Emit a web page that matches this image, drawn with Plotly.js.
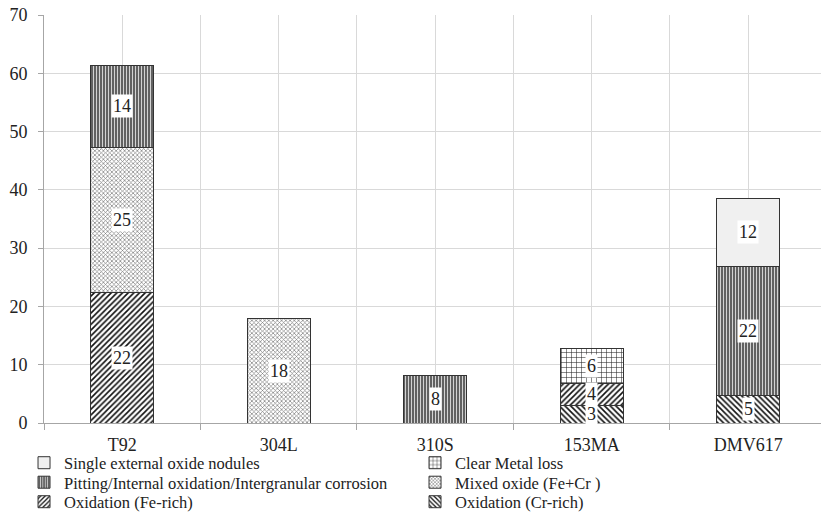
<!DOCTYPE html>
<html>
<head>
<meta charset="utf-8">
<script src="https://cdn.plot.ly/plotly-3.0.1.min.js"></script>
<style>html,body{margin:0;padding:0;background:#fff;}#chart{width:821px;height:512px;}</style>
</head>
<body>
<div id="chart"></div>
<script>
const categories = ["T92", "304L", "310S", "153MA", "DMV617"];
const crRich   = [null, null, null, 3.0, 4.7];
const feRich   = [22.4, null, null, 3.8, null];
const mixed    = [24.9, 18.0, null, null, null];
const pitting  = [14.1, null, 8.2, null, 22.2];
const metalLoss = [null, null, null, 5.9, null];
const nodules  = [null, null, null, null, 11.6];
const seriesNames = ["Oxidation (Cr-rich)", "Oxidation (Fe-rich)", "Mixed oxide (Fe+Cr )",
  "Pitting/Internal oxidation/Intergranular corrosion", "Clear Metal loss", "Single external oxide nodules"];
const yTicks = [0, 10, 20, 30, 40, 50, 60, 70];

const serif = "Liberation Serif";
const xs = categories.map((c, i) => i);
const seriesData = [crRich, feRich, mixed, pitting, metalLoss, nodules];
const patterns = [
  {shape: "\\", fgcolor: "#111", bgcolor: "#fff", size: 4, solidity: 0.4},
  {shape: "/", fgcolor: "#111", bgcolor: "#fff", size: 4, solidity: 0.4},
  {shape: "x", fgcolor: "#7a7a7a", bgcolor: "#fff", size: 3, solidity: 0.4},
  {shape: "|", fgcolor: "#e0e0e0", bgcolor: "#626262", size: 3, solidity: 0.3},
  {shape: "+", fgcolor: "#222", bgcolor: "#fff", size: 5, solidity: 0.2},
  null
];
// legend placement: [legend id, column, row]
const legendSlots = [["legend6", 1, 2], ["legend5", 0, 2], ["legend4", 1, 1], ["legend3", 0, 1], ["legend2", 1, 0], ["legend", 0, 0]];
const traces = seriesData.map((vals, k) => {
  const m = {color: k === 5 ? "#f0f0f0" : "#fff", line: {color: "#333", width: 1}};
  if (patterns[k]) m.pattern = patterns[k];
  return {
    type: "bar", name: seriesNames[k], x: xs, y: vals, width: 0.4,
    marker: m, hoverinfo: "skip", legend: legendSlots[k][0]
  };
});

// labels at segment centres, white boxed
const annotations = [];
const base = categories.map(() => 0);
seriesData.forEach(vals => {
  vals.forEach((v, i) => {
    if (v === null) return;
    annotations.push({
      x: i, y: base[i] + v / 2, xref: "x", yref: "y", text: String(Math.round(v)),
      showarrow: false, bgcolor: "#fff", borderpad: 1,
      font: {family: serif, size: 18, color: "#222"}
    });
    base[i] += v;
  });
});

const layout = {
  width: 821, height: 512,
  margin: {l: 44, r: 0, t: 15, b: 89, autoexpand: false},
  paper_bgcolor: "#fff", plot_bgcolor: "#fff",
  barmode: "stack",
  font: {family: serif, size: 18, color: "#222"},
  xaxis: {
    range: [-0.5, 4.465], tickvals: xs, ticktext: categories,
    ticks: "", showgrid: true, gridcolor: "#d9d9d9", gridwidth: 1,
    showline: true, linecolor: "#a6a6a6", linewidth: 1, zeroline: false,
    ticklabelstandoff: 5,
    tickfont: {family: serif, size: 18, color: "#222"},
    minor: {tickvals: [-0.5, 0.5, 1.5, 2.5, 3.5], ticks: "outside", ticklen: 6,
            tickcolor: "#a6a6a6", showgrid: true, gridcolor: "#d9d9d9"},
    fixedrange: true
  },
  yaxis: {
    range: [0, 70], tickvals: yTicks, ticks: "outside", ticklen: 5, tickcolor: "#a6a6a6",
    showgrid: true, gridcolor: "#d9d9d9", showline: true, linecolor: "#a6a6a6", linewidth: 1,
    zeroline: false, ticklabelstandoff: 7,
    tickfont: {family: serif, size: 18, color: "#222"},
    fixedrange: true
  },
  showlegend: true,
  annotations: annotations
};
const colX = [-0.0257, 0.4775];
const rowY = [-0.098, -0.1458, -0.1936];
legendSlots.forEach(([id, c, r]) => {
  layout[id] = {
    x: colX[c], xanchor: "left", y: rowY[r], yanchor: "middle",
    font: {family: serif, size: 16.5, color: "#222"},
    itemwidth: 30, bgcolor: "rgba(0,0,0,0)", borderwidth: 0
  };
});

Plotly.newPlot("chart", traces, layout, {displayModeBar: false, staticPlot: true});
</script>
</body>
</html>
